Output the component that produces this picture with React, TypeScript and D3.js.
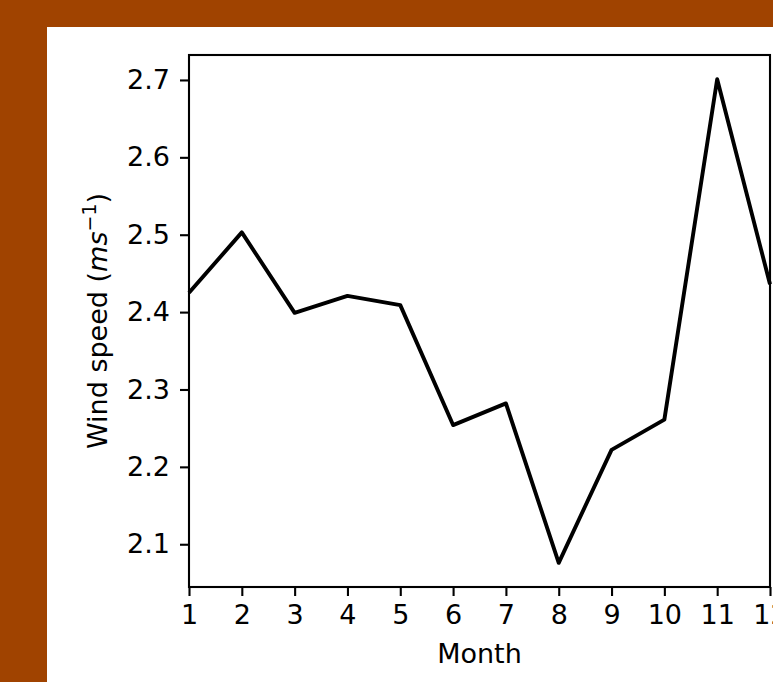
import * as d3 from 'd3';
import { useEffect, useRef } from 'react';

// monthly mean wind speed
const months = [1, 2, 3, 4, 5, 6, 7, 8, 9, 10, 11, 12];
const windSpeed = [2.425, 2.503, 2.399, 2.421, 2.409, 2.254, 2.282, 2.076, 2.222, 2.261, 2.701, 2.436];
const yTicks = [2.1, 2.2, 2.3, 2.4, 2.5, 2.6, 2.7];

const WIDTH = 773;
const HEIGHT = 682;

const App: React.FC = () => {
  const ref = useRef<null | SVGSVGElement>(null);

  useEffect(() => {
    const svg = d3.select(ref.current);
    svg.selectAll('*').remove();

    const font = 'DejaVu Sans, sans-serif';
    const fontSize = 27;
    const left = 189;
    const right = 770;
    const top = 55;
    const bottom = 587;

    // background and panel
    svg.append('rect').attr('width', WIDTH).attr('height', HEIGHT).attr('fill', '#a04300');
    svg.append('rect').attr('x', 47).attr('y', 27).attr('width', WIDTH).attr('height', HEIGHT).attr('fill', '#ffffff');

    const x = d3.scaleLinear().domain([1, 12]).range([left, right]);
    const yMin = d3.min(windSpeed)!;
    const yMax = d3.max(windSpeed)!;
    const pad = (yMax - yMin) * 0.05;
    const y = d3.scaleLinear().domain([yMin - pad, yMax + pad]).range([bottom, top]);

    // data line
    const line = d3
      .line<number>()
      .x((_, i) => x(months[i]))
      .y((d) => y(d));

    svg
      .append('path')
      .datum(windSpeed)
      .attr('fill', 'none')
      .attr('stroke', '#000')
      .attr('stroke-width', 3.9)
      .attr('stroke-linejoin', 'round')
      .attr('d', line);

    // axes
    const xAxis = svg
      .append('g')
      .attr('transform', `translate(0,${bottom})`)
      .call(d3.axisBottom(x).tickValues(months).tickFormat(d3.format('d')).tickSize(9).tickPadding(9));
    const yAxis = svg
      .append('g')
      .attr('transform', `translate(${left},0)`)
      .call(d3.axisLeft(y).tickValues(yTicks).tickFormat(d3.format('.1f')).tickSize(9).tickPadding(10));

    [xAxis, yAxis].forEach((g) => {
      g.select('.domain').remove();
      g.selectAll('line').attr('stroke', '#000').attr('stroke-width', 2.1);
      g.selectAll('text').attr('font-family', font).attr('font-size', fontSize).attr('fill', '#000');
    });

    // spines
    svg
      .append('rect')
      .attr('x', left)
      .attr('y', top)
      .attr('width', right - left)
      .attr('height', bottom - top)
      .attr('fill', 'none')
      .attr('stroke', '#000')
      .attr('stroke-width', 2.1);

    // axis labels
    svg
      .append('text')
      .attr('x', (left + right) / 2)
      .attr('y', 663)
      .attr('text-anchor', 'middle')
      .attr('font-family', font)
      .attr('font-size', fontSize)
      .text('Month');

    const yl = svg
      .append('text')
      .attr('transform', `translate(107,${(top + bottom) / 2}) rotate(-90)`)
      .attr('text-anchor', 'middle')
      .attr('font-family', font)
      .attr('font-size', fontSize);
    yl.append('tspan').text('Wind speed (');
    yl.append('tspan').attr('font-style', 'italic').text('ms');
    yl.append('tspan').attr('font-size', 19).attr('dy', -11).text('\u22121');
    yl.append('tspan').attr('dy', 11).text(')');
  }, []);

  return (
    <svg
      ref={ref}
      width={WIDTH}
      height={HEIGHT}
      style={{ position: 'absolute', left: 0, top: 0, display: 'block' }}
    />
  );
};

export default App;
